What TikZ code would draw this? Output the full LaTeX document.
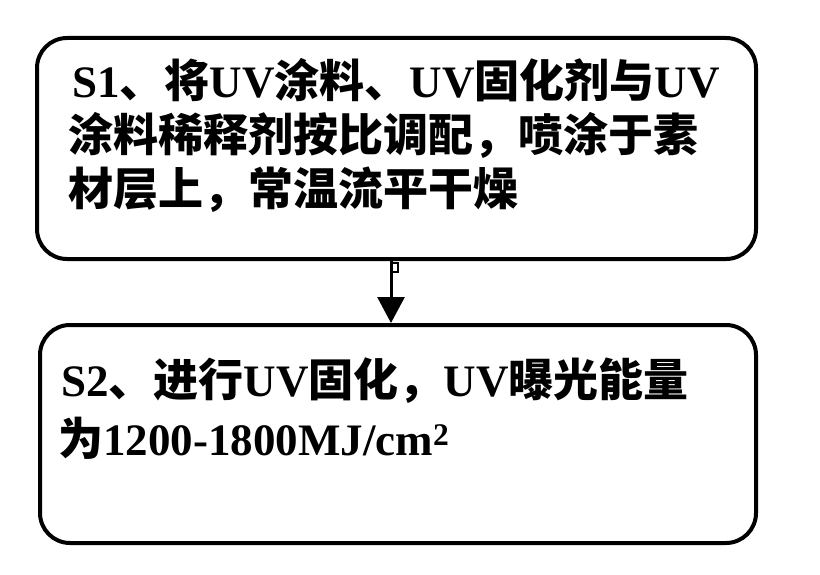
\documentclass[tikz,border=0pt]{standalone}
\usepackage{fontspec}
\setmainfont{Liberation Serif}
\newfontfamily\cjk{Noto Sans CJK SC}
\newcommand\zh[1]{{\cjk #1}}
\usetikzlibrary{arrows.meta}
\begin{document}
\begin{tikzpicture}[x=1pt,y=-1pt,
  stepbox/.style={draw, line width=4pt, rounded corners=30pt, inner sep=0pt},
  steptext/.style={anchor=base west, inner sep=0pt, font=\fontsize{45}{54}\selectfont\bfseries},
  flow/.style={line width=3pt, -{Triangle[width=27pt,length=26pt]}},
  hook/.style={line width=1.5pt}]
\useasboundingbox (0,0) rectangle (820,575);
\node[stepbox, minimum width=719pt, minimum height=221pt] (box1) at (396.5,148.5) {};
\node[stepbox, minimum width=716pt, minimum height=218pt] (box2) at (398,434) {};
\coordinate (ax) at (391,290);
\draw[flow] (box1.south -| ax) -- (box2.north -| ax);
\draw[hook] (box1.south -| ax) ++(0,2) -- ++(7,0) -- ++(0,9) -- ++(-7,0);
\node[steptext] (t1a) at (72,98) {S1\zh{、将}UV\zh{涂料、}UV\zh{固化剂与}UV};
\node[steptext] (t1b) at (68,152) {\zh{涂料稀释剂按比调配，喷涂于素}};
\node[steptext] (t1c) at (68,206) {\zh{材层上，常温流平干燥}};
\node[steptext] (t2a) at (61,396) {S2\zh{、进行}UV\zh{固化，}UV\zh{曝光能量}};
\node[steptext] (t2b) at (58,455) {\zh{为}1200-1800MJ/cm\textsuperscript{2}};
\end{tikzpicture}
\end{document}
